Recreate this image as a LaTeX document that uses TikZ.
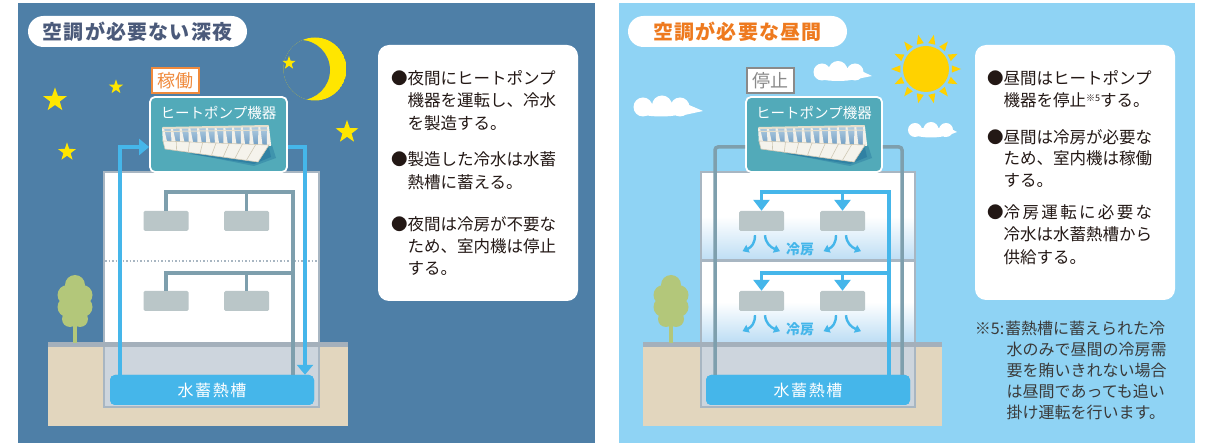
\documentclass[tikz,border=0pt]{standalone}
\usepackage{fontspec}
\setmainfont{Noto Sans CJK JP}
\usetikzlibrary{shapes.geometric,arrows.meta,calc}

\definecolor{nightbg}{HTML}{4E7FA7}
\definecolor{daybg}{HTML}{8FD3F4}
\definecolor{nighttitle}{HTML}{4B5A7A}
\definecolor{daytitle}{HTML}{EE7A1F}
\definecolor{hpteal}{HTML}{52AAB9}
\definecolor{water}{HTML}{45B6EA}
\definecolor{wall}{HTML}{A8B6C2}
\definecolor{basement}{HTML}{CDD5DD}
\definecolor{soil}{HTML}{E2D6BE}
\definecolor{groundline}{HTML}{A4B0BB}
\definecolor{unitgrey}{HTML}{BAC6C8}
\definecolor{pipegrey}{HTML}{7E9FAD}
\definecolor{leaf}{HTML}{B3C77A}
\definecolor{staryellow}{HTML}{FFE600}
\definecolor{sunyellow}{HTML}{FFD200}
\definecolor{runorange}{HTML}{F08A3C}
\definecolor{stopgrey}{HTML}{8A8A8A}
\definecolor{ink}{HTML}{231815}
\definecolor{noteink}{HTML}{3A3A3A}
\definecolor{floorblue}{HTML}{BCDDF4}
\definecolor{hpshadow}{HTML}{1E6B98}
\definecolor{louver}{HTML}{6F9CC2}
\definecolor{louverlight}{HTML}{B5CFE2}
\definecolor{post}{HTML}{F3F1EA}
\definecolor{rail}{HTML}{E6DFCB}
\definecolor{basefront}{HTML}{F5F3EC}
\definecolor{basedivide}{HTML}{CFC8B4}

\tikzset{
  titlepill/.style={fill=white, rounded corners=15.5pt, minimum width=219pt,
    minimum height=31pt, inner sep=0pt,
    font=\fontsize{20}{20}\selectfont\bfseries\addfontfeatures{LetterSpace=6}},
  hpbox/.style={fill=hpteal, draw=white, line width=1.8pt, rounded corners=5pt,
    minimum width=137pt, minimum height=75pt, inner sep=0pt},
  hptext/.style={text=white, inner sep=0pt, font=\fontsize{14.5}{14.5}\selectfont},
  runlabel/.style={draw=runorange, line width=2.2pt, fill=white, text=runorange,
    minimum width=47pt, minimum height=25pt, inner sep=0pt,
    font=\fontsize{18}{18}\selectfont},
  stoplabel/.style={runlabel, draw=stopgrey, text=stopgrey},
  tankbox/.style={fill=water, rounded corners=5pt, minimum width=204pt,
    minimum height=30pt, inner sep=0pt, text=white,
    font=\fontsize{16}{16}\selectfont\addfontfeatures{LetterSpace=10}},
  indoor/.style={fill=unitgrey, rounded corners=1.5pt, minimum width=45pt,
    minimum height=20pt, inner sep=0pt},
  notebox/.style={fill=white, rounded corners=11pt, minimum width=200pt,
    minimum height=256pt, inner sep=0pt},
  body/.style={text=ink, inner sep=0pt, anchor=base west,
    font=\fontsize{16.5}{16.5}\selectfont},
  footnote/.style={text=noteink, inner sep=0pt, anchor=base west,
    font=\fontsize{16}{16}\selectfont},
  cooltext/.style={text=water, inner sep=0pt, font=\fontsize{14}{14}\selectfont\bfseries},
  starnode/.style={star, star points=5, star point ratio=2.5, fill=staryellow,
    inner sep=0pt},
  bluepipe/.style={draw=water, line width=3.5pt},
  greypipe/.style={draw=pipegrey, line width=3.5pt},
  flowtip/.style={-{Triangle[width=16pt,length=10pt]}},
  droptip/.style={-{Triangle[width=16pt,length=11pt]}},
  breezeline/.style={draw=water, line width=2.4pt, -{Triangle[width=8pt,length=6pt]}},
  % heat pump unit drawn inside its box, origin at the box's top left corner
  hpunit/.pic={
    \fill[hpshadow, opacity=.35] (18,52) -- (104,69) -- (126,61) -- (122,48) -- cycle;
    \fill[hpshadow, opacity=.45] (40,57) -- (104,67) -- (121,60) -- (119,51) -- cycle;
    \shade[top color=louverlight, bottom color=louver] (13,31) -- (118,29) -- (119,49) -- (15,45) -- cycle;
    \foreach \i in {0,...,12}{
      \pgfmathsetmacro\xa{13+105*\i/12}
      \pgfmathsetmacro\ya{31-2*\i/12}
      \pgfmathsetmacro\xb{15+104*\i/12}
      \pgfmathsetmacro\yb{45+4*\i/12}
      \fill[post] (\xa-0.9,\ya) -- (\xa+0.9,\ya) -- (\xb+2.2,\yb) -- (\xb-2.2,\yb) -- cycle;
    }
    \draw[rail, line width=2pt, line cap=round] (13,31) -- (118,29);
    \draw[rail, line width=1pt] (13,34.5) -- (118,33);
    \fill[basefront] (13,44) -- (119,48) -- (108,65) -- (15,52) -- cycle;
    \draw[basedivide, line width=.6pt] (13,44) -- (119,48) -- (108,65) -- (15,52) -- cycle;
    \foreach \i in {1,...,7}{
      \draw[basedivide, line width=.6pt] ({13+106*\i/8},{44+4*\i/8}) -- ({15+93*\i/8},{52+13*\i/8});
    }
  },
  % tree, origin at the foot of the trunk
  tree/.pic={
    \fill[leaf] (-2.2,-34) rectangle (2.2,0);
    \fill[leaf] (0,-58) circle (10) (-7.5,-48) circle (10) (7.5,-48) circle (10)
      (-7.5,-36) circle (10) (7.5,-36) circle (10) (-5,-24) circle (8) (5,-24) circle (8)
      (0,-42) circle (12);
  },
  % two cool-air arrows under an indoor unit
  breeze/.pic={
    \draw[breezeline] (-6.5,0) .. controls (-6.5,8) and (-10,12) .. (-19,16);
    \draw[breezeline] (3.5,0) .. controls (4,8) and (9,12) .. (18.5,16);
  }
}

\begin{document}
\begin{tikzpicture}[x=1pt,y=-1pt]
\useasboundingbox (0,0) rectangle (1205,443);

% ---------------- panels ----------------
\fill[nightbg] (18,3) rectangle (595,443);
\fill[daybg] (619,3) rectangle (1195,443);

% ================= night =================
\node[titlepill, text=nighttitle] (titleN) at (137.5,31.5) {空調が必要ない深夜};

% moon
\begin{scope}
  \clip (315,69) circle (31.5);
  \fill[staryellow] (315,69) circle (31.5);
  \fill[nightbg] (300,70) circle (30);
\end{scope}
\node[starnode, minimum size=25pt] (star1) at (55,100) {};
\node[starnode, minimum size=15pt] (star2) at (116,87) {};
\node[starnode, minimum size=19pt] (star3) at (67,152) {};
\node[starnode, minimum size=14pt] (star4) at (289,63) {};
\node[starnode, minimum size=24pt] (star5) at (347,132) {};

% ground and building
\fill[soil] (48,343) rectangle (348,426);
\filldraw[fill=basement, draw=wall, line width=1.5pt] (104,343) rectangle (319,407);
\filldraw[fill=white, draw=wall, line width=2.5pt] (104,172) rectangle (319,343);
\draw[wall, dotted, line width=1.5pt] (105,261) -- (318,261);
\fill[groundline] (48,342) rectangle (348,347);
\pic at (75,343) {tree};

% indoor units (stopped)
\node[indoor] (uN1) at (166,221) {};
\node[indoor] (uN2) at (246.5,221) {};
\node[indoor] (uN3) at (166,301) {};
\node[indoor] (uN4) at (246.5,301) {};

\node[tankbox] (tankN) at (212,390) {水蓄熱槽};
\node[hpbox] (hpN) at (218.5,134.5) {};
\pic at (150,97) {hpunit};
\node[hptext] (hpNtext) at (218.5,113) {ヒートポンプ機器};
\node[runlabel] (runN) at (175.5,80.5) {稼働};

% chilled-water piping to the indoor units
\coordinate (riserN) at (293,192);
\coordinate (riserN2) at (293,273);
\draw[greypipe] (riserN |- tankN.north) -- (riserN) -- (uN1.north |- riserN) -- (uN1.north);
\draw[greypipe] (uN2.north |- riserN) -- (uN2.north);
\draw[greypipe] (riserN2) -- (uN3.north |- riserN2) -- (uN3.north);
\draw[greypipe] (uN4.north |- riserN2) -- (uN4.north);

% night loop between tank and heat pump
\coordinate (loopNL) at (120,147);
\coordinate (loopNR) at (305,147);
\draw[bluepipe, flowtip] (loopNL |- tankN.north) -- (loopNL) -- (hpN.west |- loopNL);
\draw[bluepipe, flowtip] (hpN.east |- loopNR) -- (loopNR) -- (loopNR |- tankN.north);
\node[tankbox] at (tankN) {水蓄熱槽};

% notes
\node[notebox] (noteN) at (478,173) {};
\node[body] (nA1) at (391,84.3) {●夜間にヒートポンプ};
\node[body] (nA2) at (407.5,106.8) {機器を運転し、冷水};
\node[body] (nA3) at (407.5,129.3) {を製造する。};
\node[body] (nB1) at (391,165.8) {●製造した冷水は水蓄};
\node[body] (nB2) at (407.5,188.3) {熱槽に蓄える。};
\node[body] (nC1) at (391,230.8) {●夜間は冷房が不要な};
\node[body] (nC2) at (407.5,252.8) {ため、室内機は停止};
\node[body] (nC3) at (407.5,274.8) {する。};

% ================= day =================
\node[titlepill, text=daytitle] (titleD) at (737.5,31.5) {空調が必要な昼間};

% sun
\fill[sunyellow] (926,69) circle (23);
\begin{scope}[shift={(926,69)}]
  \foreach \k in {0,...,13}{
    \pgfmathsetmacro\a{\k*360/14}
    \fill[sunyellow] (\a-8:26) -- (\a:35) -- (\a+8:26) -- cycle;
  }
\end{scope}

% clouds
\fill[white] (822,72) circle (8.5) (838,70.5) circle (9.5) (855,72) circle (8.5)
  (838,75) ellipse [x radius=24, y radius=6]
  (855,68) -- (872,76) -- (852,80) -- cycle;
\fill[white] (643,107) circle (9.5) (662,105.5) circle (10) (680,107) circle (9.5)
  (661,110) ellipse [x radius=26, y radius=6.5]
  (682,102) -- (703,111) -- (680,116) -- cycle;
\fill[white] (915,130) circle (7) (931,129.5) circle (7.5) (946,130) circle (7)
  (931,132.5) ellipse [x radius=19, y radius=5]
  (946,126) -- (957,132) -- (944,137) -- cycle;

% ground and building
\fill[soil] (643,343) rectangle (942,426);
\filldraw[fill=basement, draw=wall, line width=1.5pt] (701,343) rectangle (915,407);
\shade[top color=white, bottom color=floorblue, middle color=white] (701,172) rectangle (915,261);
\shade[top color=white, bottom color=floorblue, middle color=white] (701,261) rectangle (915,343);
\draw[wall, line width=2.5pt] (701,172) rectangle (915,343);
\draw[wall, line width=3pt] (701,261) -- (915,261);
\fill[groundline] (643,342) rectangle (942,347);
\pic at (671,343) {tree};

% indoor units (running)
\node[indoor] (uD1) at (761.5,221) {};
\node[indoor] (uD2) at (842.5,221) {};
\node[indoor] (uD3) at (761.5,301) {};
\node[indoor] (uD4) at (842.5,301) {};
\pic at ($(uD1.south)+(0,4)$) {breeze};
\pic at ($(uD2.south)+(0,4)$) {breeze};
\pic at ($(uD3.south)+(0,4)$) {breeze};
\pic at ($(uD4.south)+(0,4)$) {breeze};
\node[cooltext] (coolD1) at (800,249) {冷房};
\node[cooltext] (coolD2) at (800,329) {冷房};

\node[tankbox] (tankD) at (808,390) {水蓄熱槽};
\node[hpbox, minimum width=136pt] (hpD) at (814,134.5) {};
\pic at (746,97) {hpunit};
\node[hptext] (hpDtext) at (814,113) {ヒートポンプ機器};
\node[stoplabel] (stopD) at (770.5,80.5) {停止};

% idle loop between tank and heat pump
\coordinate (loopDL) at (715,147);
\coordinate (loopDR) at (902,147);
\draw[greypipe, rounded corners=3pt] (loopDL |- tankD.north) -- (loopDL) -- (hpD.west |- loopDL);
\draw[greypipe, rounded corners=3pt] (hpD.east |- loopDR) -- (loopDR) -- (loopDR |- tankD.north);

% chilled water from the tank to the indoor units
\coordinate (riserD) at (889,192);
\coordinate (riserD2) at (889,273);
\draw[bluepipe, droptip] (riserD |- tankD.north) -- (riserD) -- (uD1.north |- riserD) -- (uD1.north);
\draw[bluepipe, droptip] (uD2.north |- riserD) -- (uD2.north);
\draw[bluepipe, droptip] (riserD2) -- (uD3.north |- riserD2) -- (uD3.north);
\draw[bluepipe, droptip] (uD4.north |- riserD2) -- (uD4.north);
\node[tankbox] at (tankD) {水蓄熱槽};

% notes
\node[notebox, minimum height=255pt] (noteD) at (1075,172.5) {};
\node[body] (dA1) at (987,84.3) {●昼間はヒートポンプ};
\node[body] (dA2) at (1003.5,106.8) {機器を停止{\fontsize{9}{9}\selectfont\raisebox{5.5pt}{※5}}する。};
\node[body] (dB1) at (987,143.3) {●昼間は冷房が必要な};
\node[body] (dB2) at (1003.5,164.8) {ため、室内機は稼働};
\node[body] (dB3) at (1003.5,186.3) {する。};
\node[body] (dC1) at (987,218.3) {●\makebox[9em][s]{冷\hfill 房\hfill 運\hfill 転\hfill に\hfill 必\hfill 要\hfill な}};
\node[body] (dC2) at (1003.5,240.8) {冷水は水蓄熱槽から};
\node[body] (dC3) at (1003.5,263.3) {供給する。};

% footnote
\node[footnote, anchor=base east] (fnMark) at (1004.5,334.1) {※5:};
\node[footnote] (fn1) at (1005,334.1) {蓄熱槽に蓄えられた冷};
\node[footnote] (fn2) at (1006.5,355.3) {水のみで昼間の冷房需};
\node[footnote] (fn3) at (1006.5,376.5) {要を賄いきれない場合};
\node[footnote] (fn4) at (1006.5,397.7) {は昼間であっても追い};
\node[footnote] (fn5) at (1006.5,418.9) {掛け運転を行います。};
\end{tikzpicture}
\end{document}
